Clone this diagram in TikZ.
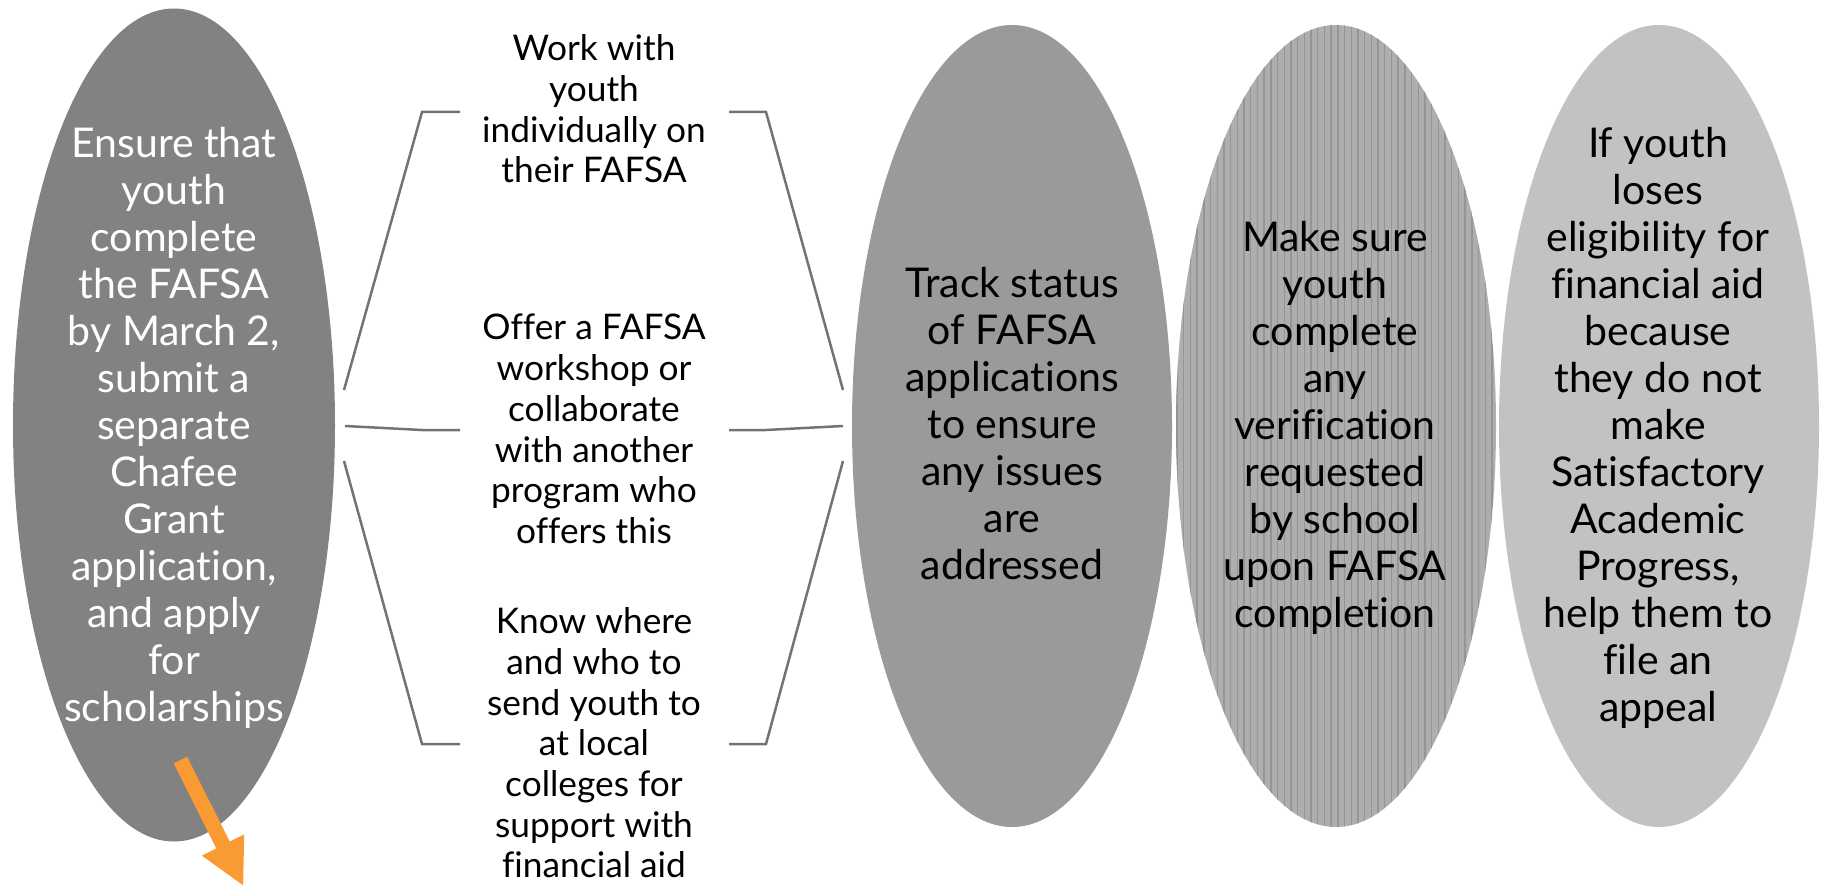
\documentclass[tikz,border=0pt]{standalone}
\usepackage{fontspec}
\setmainfont{Lato}[Ligatures=NoCommon]
\usetikzlibrary{shapes.geometric}
\definecolor{ovalA}{HTML}{828282}
\definecolor{ovalB}{HTML}{9A9A9A}
\definecolor{ovalC}{HTML}{AEAEAE}
\definecolor{lineC}{HTML}{959595}
\definecolor{ovalD}{HTML}{C2C2C2}
\definecolor{brkgray}{HTML}{737373}
\definecolor{arroworange}{HTML}{FA9A32}
\begin{document}
\begin{tikzpicture}[x=1pt,y=-1pt,
  oval/.style={ellipse, draw=none, inner sep=0pt, minimum width=320pt, minimum height=802pt},
  bigtxt/.style={align=center, inner sep=0pt, font=\fontsize{41}{47}\selectfont},
  midtxt/.style={align=center, inner sep=0pt, font=\fontsize{35.3}{40.7}\selectfont},
  brk/.style={draw=brkgray, line width=2.5pt, line join=miter}]
\useasboundingbox (0,0) rectangle (1822,885);

% ovals
\node[oval, fill=ovalA, minimum width=322pt, minimum height=833pt] (e1) at (174,425) {};
\node[oval, fill=ovalB] (e2) at (1012,426) {};
\node[oval, fill=ovalC] (e3) at (1336,426) {};
\begin{scope}
  \clip (1336,426) ellipse [x radius=160pt, y radius=401pt];
  \foreach \x in {1177,1183.7,...,1497} \draw[lineC, line width=1.4pt] (\x,20) -- (\x,832);
\end{scope}
\node[oval, fill=ovalD] (e4) at (1659,426) {};

% oval texts
\node[bigtxt, text=white] (t1) at (174,428) {Ensure that\\youth\\complete\\the FAFSA\\by March 2,\\submit a\\separate\\Chafee\\Grant\\application,\\and apply\\for\\scholarships};
\node[bigtxt] (t2) at (1012,424) {Track status\\of FAFSA\\applications\\to ensure\\any issues\\are\\addressed};
\node[bigtxt] (t3) at (1335,428) {Make sure\\youth\\complete\\any\\verification\\requested\\by school\\upon FAFSA\\completion};
\node[bigtxt] (t4) at (1658,428) {If youth\\loses\\eligibility for\\financial aid\\because\\they do not\\make\\Satisfactory\\Academic\\Progress,\\help them to\\file an\\appeal};

% middle texts
\node[midtxt] (m1) at (594,109) {Work with\\youth\\individually on\\their FAFSA};
\node[midtxt] (m2) at (594,429) {Offer a FAFSA\\workshop or\\collaborate\\with another\\program who\\offers this};
\node[midtxt] (m3) at (594,743) {Know where\\and who to\\send youth to\\at local\\colleges for\\support with\\financial aid};

% bracket coordinates
\coordinate (lt1) at (460,112); \coordinate (lt2) at (422,112); \coordinate (lt3) at (344,390);
\coordinate (lm1) at (460,430); \coordinate (lm2) at (422,430); \coordinate (lm3) at (345,426);
\coordinate (lb1) at (460,744); \coordinate (lb2) at (422,744); \coordinate (lb3) at (344,461);
\coordinate (rt1) at (729,112); \coordinate (rt2) at (766,112); \coordinate (rt3) at (843,390);
\coordinate (rm1) at (729,430); \coordinate (rm2) at (766,430); \coordinate (rm3) at (843,426);
\coordinate (rb1) at (729,744); \coordinate (rb2) at (766,744); \coordinate (rb3) at (843,461);

\draw[brk] (lt1) -- (lt2) -- (lt3);
\draw[brk] (lm1) -- (lm2) -- (lm3);
\draw[brk] (lb1) -- (lb2) -- (lb3);
\draw[brk] (rt1) -- (rt2) -- (rt3);
\draw[brk] (rm1) -- (rm2) -- (rm3);
\draw[brk] (rb1) -- (rb2) -- (rb3);

% orange arrow
\coordinate (sA) at (173.8,763.4); \coordinate (sB) at (187.2,756.7);
\coordinate (bB) at (229.7,841.6); \coordinate (hB) at (244.2,834.4);
\coordinate (tip) at (243.1,885.2);
\coordinate (hA) at (201.8,855.6); \coordinate (bA) at (216.3,848.4);
\fill[arroworange] (sA) -- (bA) -- (hA) -- (tip) -- (hB) -- (bB) -- (sB) -- cycle;
\end{tikzpicture}
\end{document}
